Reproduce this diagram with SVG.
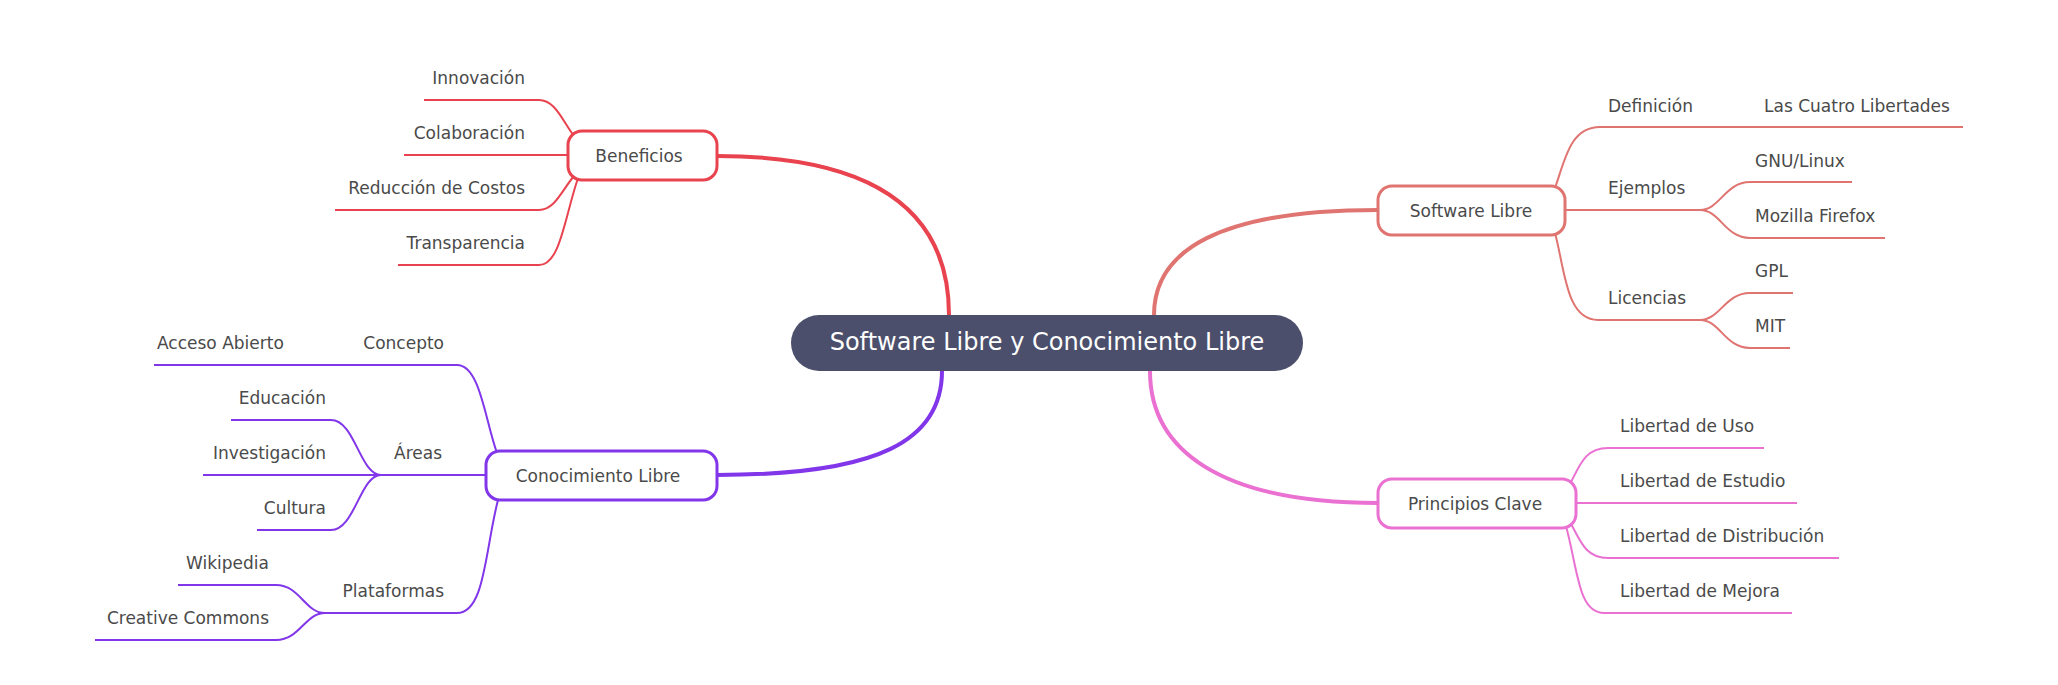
<svg xmlns="http://www.w3.org/2000/svg" width="2058" height="685" viewBox="0 0 2058 685">
<style>
text{font-family:"DejaVu Sans","Noto Sans",sans-serif;font-size:17px;fill:#4a4a4a}
.r{text-anchor:end}
.box{fill:#fff;stroke-width:3}
.l{fill:none;stroke-width:2}
.m{fill:none;stroke-width:4}
.red{stroke:#e8434f}.pur{stroke:#8136ea}.sal{stroke:#e07470}.pink{stroke:#ea70d2}
</style>
<rect width="2058" height="685" fill="#fff"/>
<g id="connectors">
<path class="m red" d="M717,156 C900,156 949,230 949,315"/>
<path class="m pur" d="M942,371 C942,440 880,475 717,475"/>
<path class="m sal" d="M1154,315 C1154,250 1220,210 1378,210"/>
<path class="m pink" d="M1150,371 C1150,450 1220,503 1378,503"/>
<g class="l red">
<path d="M424,100 H539 C555,100 562,120 574,136"/>
<path d="M404,155 H568"/>
<path d="M335,210 H539 C555,210 562,190 574,176"/>
<path d="M398,265 H539 C560,265 564,220 578,178"/>
</g>
<g class="l pur">
<path d="M154,365 H457 C480,365 485,420 497,453"/>
<path d="M231,420 H331 C355,420 360,475 381,475"/>
<path d="M203,475 H486"/>
<path d="M257,530 H331 C355,530 360,475 381,475"/>
<path d="M325,613 H457 C485,613 485,550 498,500"/>
<path d="M178,585 H276 C300,585 305,613 325,613"/>
<path d="M95,640 H276 C300,640 305,613 325,613"/>
</g>
<g class="l sal">
<path d="M1555,188 C1565,160 1570,127 1600,127 H1963"/>
<path d="M1565,210 H1700"/>
<path d="M1700,210 C1720,210 1725,182 1750,182 H1852"/>
<path d="M1700,210 C1720,210 1725,238 1750,238 H1885"/>
<path d="M1555,233 C1565,270 1566,320 1598,320 H1700"/>
<path d="M1700,320 C1720,320 1725,293 1750,293 H1793"/>
<path d="M1700,320 C1720,320 1725,348 1750,348 H1790"/>
</g>
<g class="l pink">
<path d="M1570,484 C1580,465 1585,448 1608,448 H1764"/>
<path d="M1576,503 H1797"/>
<path d="M1570,522 C1580,540 1585,558 1608,558 H1839"/>
<path d="M1566,526 C1578,570 1578,613 1604,613 H1792"/>
</g>
</g>
<g id="center">
<rect x="791" y="315" width="512" height="56" rx="28" fill="#4b4f6b"/>
<text x="1047" y="350" text-anchor="middle" style="font-size:24px;fill:#fff">Software Libre y Conocimiento Libre</text>
</g>
<g id="beneficios">
<rect class="box red" x="568" y="131" width="149" height="49" rx="14"/>
<text x="639" y="162" text-anchor="middle">Beneficios</text>
</g>
<g id="conocimiento">
<rect class="box pur" x="486" y="451" width="231" height="49" rx="14"/>
<text x="598" y="482" text-anchor="middle">Conocimiento Libre</text>
</g>
<g id="software">
<rect class="box sal" x="1378" y="186" width="187" height="49" rx="14"/>
<text x="1471" y="217" text-anchor="middle">Software Libre</text>
</g>
<g id="principios">
<rect class="box pink" x="1378" y="479" width="198" height="49" rx="14"/>
<text x="1475" y="510" text-anchor="middle">Principios Clave</text>
</g>
<g id="leaves-left">
<text class="r" x="525" y="84">Innovación</text>
<text class="r" x="525" y="139">Colaboración</text>
<text class="r" x="525" y="194">Reducción de Costos</text>
<text class="r" x="525" y="249">Transparencia</text>
<text x="157" y="349">Acceso Abierto</text>
<text class="r" x="444" y="349">Concepto</text>
<text class="r" x="326" y="404">Educación</text>
<text class="r" x="442" y="459">Áreas</text>
<text class="r" x="326" y="459">Investigación</text>
<text class="r" x="326" y="514">Cultura</text>
<text class="r" x="269" y="569">Wikipedia</text>
<text class="r" x="444" y="597">Plataformas</text>
<text class="r" x="269" y="624">Creative Commons</text>
</g>
<g id="leaves-right">
<text x="1608" y="112">Definición</text>
<text x="1764" y="112">Las Cuatro Libertades</text>
<text x="1608" y="194">Ejemplos</text>
<text x="1755" y="167">GNU/Linux</text>
<text x="1755" y="222">Mozilla Firefox</text>
<text x="1608" y="304">Licencias</text>
<text x="1755" y="277">GPL</text>
<text x="1755" y="332">MIT</text>
<text x="1620" y="432">Libertad de Uso</text>
<text x="1620" y="487">Libertad de Estudio</text>
<text x="1620" y="542">Libertad de Distribución</text>
<text x="1620" y="597">Libertad de Mejora</text>
</g>
</svg>
